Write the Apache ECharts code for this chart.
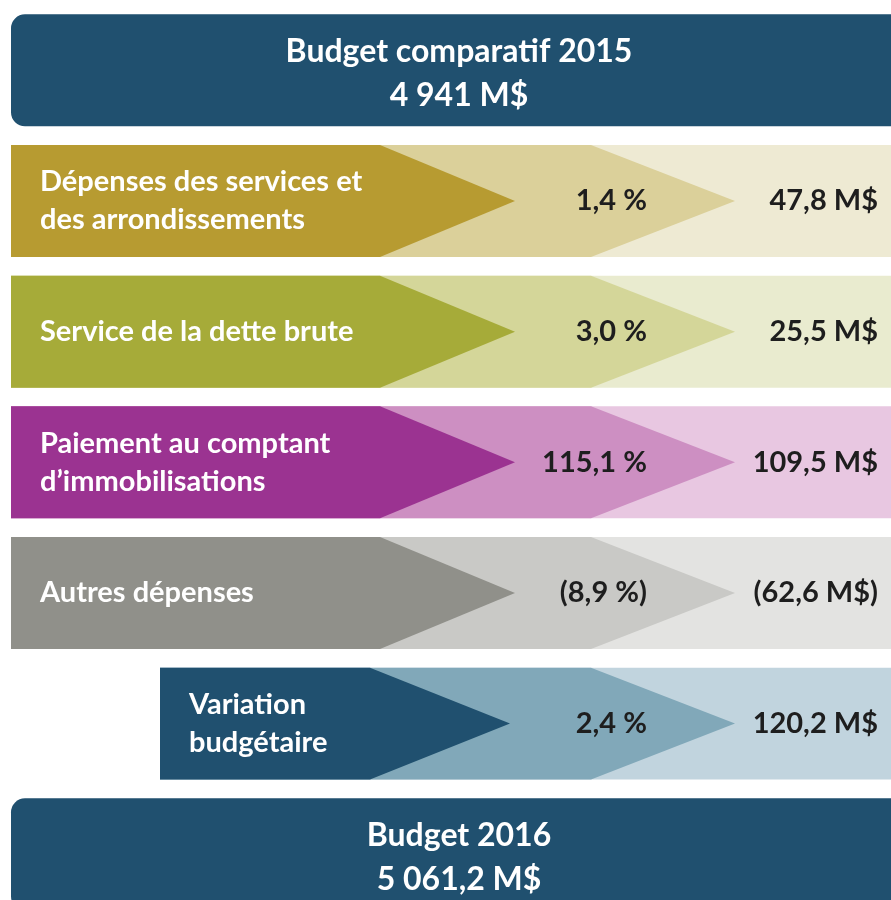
<!DOCTYPE html>
<html>
<head>
<meta charset="utf-8">
<script src="https://cdn.jsdelivr.net/npm/echarts@6/dist/echarts.min.js"></script>
<style>
    html, body { margin: 0; padding: 0; background: #fff; }
    #chart { width: 891px; height: 900px; }
</style>
</head>
<body>
<div id="chart"></div>
<script>
(function() {
    'use strict';

    // données
    var categories = [
        'Dépenses des services et\ndes arrondissements',
        'Service de la dette brute',
        'Paiement au comptant\nd\u2019immobilisations',
        'Autres dépenses',
        'Variation\nbudgétaire'
    ];
    var pctValues = [1.4, 3.0, 115.1, -8.9, 2.4];
    var amountValues = [47.8, 25.5, 109.5, -62.6, 120.2];
    var startTitle = 'Budget comparatif 2015';
    var startValue = 4941;
    var endTitle = 'Budget 2016';
    var endValue = 5061.2;

    // couleurs: foncé, moyen, pâle
    var rowColors = [
        ['#b79b31', '#dbd09a', '#eeead3'],
        ['#a6ab39', '#d4d699', '#e9ebcf'],
        ['#9b3391', '#cd8fc2', '#e8c7e1'],
        ['#90908a', '#c9c9c6', '#e3e3e1'],
        ['#20506f', '#81a8b9', '#c1d4de']
    ];
    var boxColor = '#20506f';
    var FONT = '"Lato", "Open Sans", sans-serif';
    var XMAX = 880;

    function fmt(v, dec) {
        var s = Math.abs(v).toFixed(dec).split('.');
        var ent = s[0].replace(/\B(?=(\d{3})+(?!\d))/g, ' ');
        return s.length > 1 ? ent + ',' + s[1] : ent;
    }
    function wrapNeg(v, txt) {
        return v < 0 ? '(' + txt + ')' : txt;
    }

    var slots = [startTitle].concat(categories, [endTitle]);
    var seriesData = slots.map(function (n, i) { return [0, i]; });

    var myChart = echarts.init(document.getElementById('chart'));

    var option = {
        animation: false,
        grid: { left: 11, top: 5, width: XMAX, bottom: 0 },
        xAxis: { type: 'value', min: 0, max: XMAX, show: false },
        // une rangée par unité; la dernière boîte dépasse le bas de l'image
        yAxis: { type: 'value', min: -0.5, max: 6.35, inverse: true, show: false },
        series: [{
            type: 'custom',
            clip: false,
            data: seriesData,
            encode: { x: 0, y: 1 },
            renderItem: function (params, api) {
                var i = api.value(1);
                var band = api.size([0, 1])[1];
                var cy = api.coord([0, i])[1];
                var h = band * 0.857;
                var top = cy - h / 2, bot = cy + h / 2;
                var x = function (v) { return api.coord([v, i])[0]; };

                // encadrés du haut et du bas
                if (i === 0 || i === slots.length - 1) {
                    var val = i === 0 ? startValue : endValue;
                    var dec = i === 0 ? 0 : 1;
                    return {
                        type: 'group',
                        children: [{
                            type: 'rect',
                            shape: { x: x(0), y: top, width: x(XMAX + 16) - x(0), height: h, r: 14 },
                            style: { fill: boxColor }
                        }, {
                            type: 'text',
                            style: {
                                text: slots[i] + '\n' + fmt(val, dec) + ' M$',
                                x: x((XMAX + 16) / 2), y: cy + 3,
                                align: 'center', verticalAlign: 'middle',
                                lineHeight: 44,
                                fill: '#fff', font: 'bold 32px ' + FONT
                            }
                        }]
                    };
                }

                var r = i - 1;
                var cols = rowColors[r];
                var last = r === categories.length - 1;
                var x0 = last ? 149 : 0;
                var darkEnd = last ? 359 : 369;
                var darkTip = last ? 499 : 504;
                var midEnd = 580, midTip = 724;

                return {
                    type: 'group',
                    children: [{
                        type: 'rect',
                        shape: { x: x(x0), y: top, width: x(XMAX + 16) - x(x0), height: h },
                        style: { fill: cols[2] }
                    }, {
                        type: 'polygon',
                        shape: { points: [[x(x0), top], [x(midEnd), top], [x(midTip), cy], [x(midEnd), bot], [x(x0), bot]] },
                        style: { fill: cols[1] }
                    }, {
                        type: 'polygon',
                        shape: { points: [[x(x0), top], [x(darkEnd), top], [x(darkTip), cy], [x(darkEnd), bot], [x(x0), bot]] },
                        style: { fill: cols[0] }
                    }, {
                        type: 'text',
                        style: {
                            text: categories[r],
                            x: x(x0 + 29), y: cy,
                            align: 'left', verticalAlign: 'middle',
                            lineHeight: 38,
                            fill: '#fff', font: 'bold 29px ' + FONT
                        }
                    }, {
                        type: 'text',
                        style: {
                            text: wrapNeg(pctValues[r], fmt(pctValues[r], 1) + ' %'),
                            x: x(636), y: cy,
                            align: 'right', verticalAlign: 'middle',
                            fill: '#1e1e1e', font: 'bold 29px ' + FONT
                        }
                    }, {
                        type: 'text',
                        style: {
                            text: wrapNeg(amountValues[r], fmt(amountValues[r], 1) + ' M$'),
                            x: x(867), y: cy,
                            align: 'right', verticalAlign: 'middle',
                            fill: '#1e1e1e', font: 'bold 29px ' + FONT
                        }
                    }]
                };
            }
        }]
    };

    myChart.setOption(option);
})();
</script>
</body>
</html>
